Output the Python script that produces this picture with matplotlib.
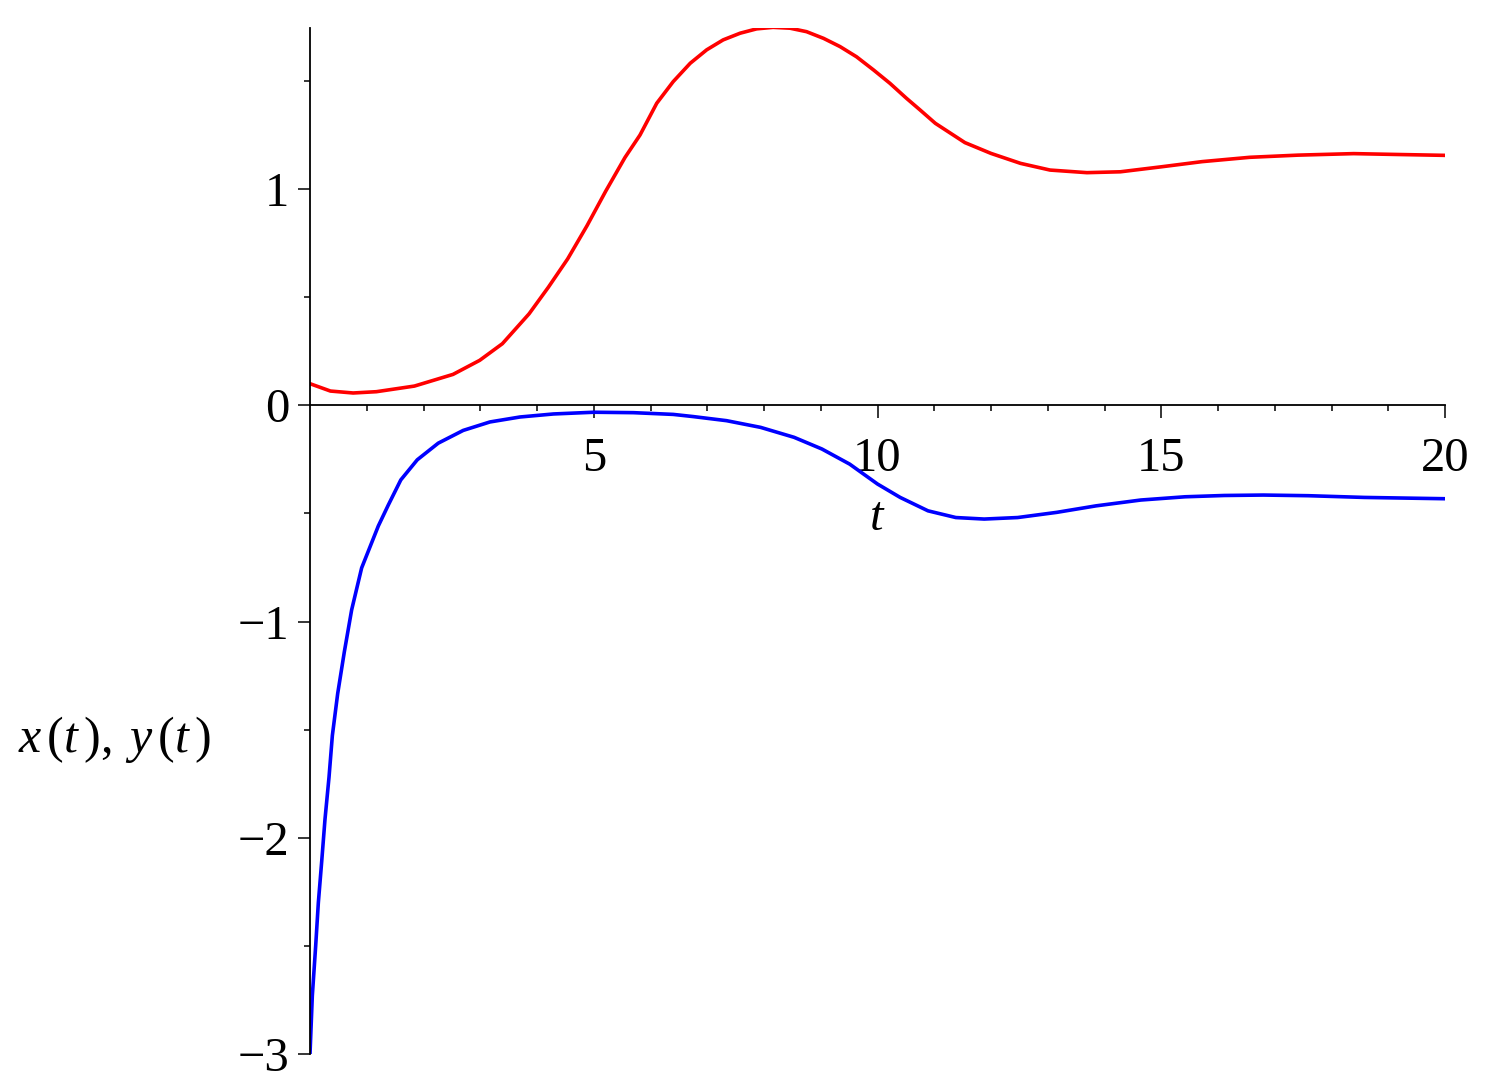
import matplotlib
matplotlib.use("Agg")
import matplotlib.pyplot as plt
from matplotlib.ticker import FixedLocator

plt.rcParams['font.family'] = ['Liberation Serif', 'DejaVu Serif']
plt.rcParams['mathtext.fontset'] = 'custom'
plt.rcParams['mathtext.rm'] = 'Liberation Serif'
plt.rcParams['mathtext.it'] = 'Liberation Serif:italic'

# values
t_red = [0, 0.36, 0.76, 1.17, 1.84, 2.52, 2.99, 3.39, 3.86, 4.2, 4.54, 4.88,
         5.21, 5.55, 5.815, 6.11, 6.40, 6.70, 6.99, 7.28, 7.58, 7.87, 8.16,
         8.46, 8.75, 9.05, 9.34, 9.63, 9.93, 10.22, 10.51, 10.75, 11.02,
         11.54, 12.0, 12.52, 13.04, 13.69, 14.28, 15.0, 15.72, 16.56, 17.41,
         18.39, 19.17, 20]
red_vals = [0.10, 0.066, 0.057, 0.063, 0.089, 0.143, 0.208, 0.285, 0.423,
            0.546, 0.677, 0.83, 0.99, 1.146, 1.25, 1.397, 1.497, 1.582, 1.644,
            1.690, 1.721, 1.741, 1.748, 1.744, 1.728, 1.697, 1.659, 1.612,
            1.551, 1.489, 1.42, 1.366, 1.304, 1.215, 1.165, 1.119, 1.088,
            1.076, 1.080, 1.103, 1.127, 1.147, 1.157, 1.164, 1.160, 1.156]

t_blue = [0, 0.041, 0.10, 0.147, 0.206, 0.264, 0.335, 0.394, 0.488, 0.605,
          0.734, 0.91, 1.204, 1.38, 1.60, 1.89, 2.26, 2.70, 3.17, 3.70, 4.29,
          5.0, 5.70, 6.4, 6.75, 7.34, 7.94, 8.53, 9.02, 9.51, 10.0, 10.4,
          10.89, 11.38, 11.88, 12.47, 13.16, 13.85, 14.64, 15.42, 16.11, 16.8,
          17.59, 18.58, 20]
blue_vals = [-3.0, -2.73, -2.50, -2.30, -2.11, -1.915, -1.72, -1.527, -1.333,
             -1.14, -0.946, -0.752, -0.558, -0.461, -0.345, -0.252, -0.175,
             -0.116, -0.077, -0.054, -0.040, -0.032, -0.034, -0.042, -0.052,
             -0.071, -0.102, -0.148, -0.202, -0.272, -0.364, -0.426, -0.488,
             -0.519, -0.526, -0.519, -0.495, -0.465, -0.438, -0.423, -0.417,
             -0.415, -0.418, -0.426, -0.432]

x_major = [5, 10, 15, 20]
x_minor = [i for i in range(1, 20) if i % 5 != 0]
y_major = [-3, -2, -1, 0, 1]
y_minor = [-2.5, -1.5, -0.5, 0.5, 1.5]

fig = plt.figure(figsize=(14.98, 10.91), dpi=100)
ax = fig.add_axes([310/1498, 37/1091, 1135/1498, 1026/1091])

ax.plot(t_red, red_vals, color='#ff0000', lw=2.6, solid_joinstyle='round')
ax.plot(t_blue, blue_vals, color='#0000ff', lw=2.6, solid_joinstyle='round')

ax.set_xlim(0, 20)
ax.set_ylim(-3, 1.745)

ax.spines['top'].set_visible(False)
ax.spines['right'].set_visible(False)
ax.spines['bottom'].set_position(('data', 0))
ax.spines['left'].set_linewidth(1.3)
ax.spines['bottom'].set_linewidth(1.3)

ax.xaxis.set_major_locator(FixedLocator(x_major))
ax.xaxis.set_minor_locator(FixedLocator(x_minor))
ax.yaxis.set_major_locator(FixedLocator(y_major))
ax.yaxis.set_minor_locator(FixedLocator(y_minor))

ax.tick_params(axis='both', which='major', direction='out', length=9,
               width=1.1, labelsize=35)
ax.tick_params(axis='both', which='minor', direction='out', length=4.5,
               width=1.1)
ax.tick_params(axis='x', which='major', pad=14)
ax.tick_params(axis='y', which='major', pad=6)

ax.set_xlabel('$t$', fontsize=35)
ax.xaxis.label.set_va('center')
ax.xaxis.set_label_coords(0.5, 0.522)

ax.set_ylabel(r'$x\,(t\,),\;y\,(t\,)$', fontsize=36, rotation=0)
ax.yaxis.label.set_ha('center')
ax.yaxis.label.set_va('center')
ax.yaxis.set_label_coords(-0.172, 0.307)

fig.savefig('out.png', dpi=100)
